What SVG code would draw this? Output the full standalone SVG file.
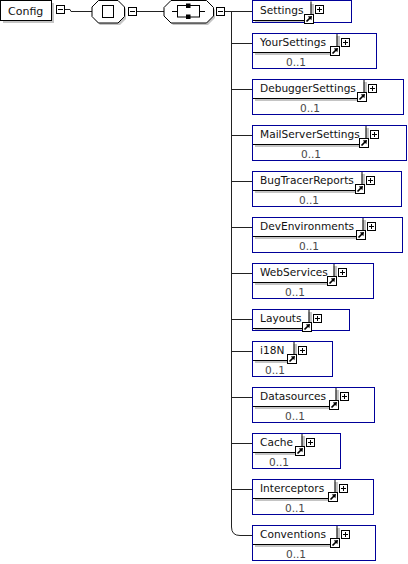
<svg xmlns="http://www.w3.org/2000/svg" xmlns:xlink="http://www.w3.org/1999/xlink" width="408" height="564" viewBox="0 0 408 564">
<style>
text{font-family:"DejaVu Sans","Liberation Sans",sans-serif;font-size:10.6px;fill:#111}
.card{fill:#4a4a4a;text-anchor:middle}
.outer{fill:none;stroke:#000099;stroke-width:1}
.shadow{fill:#c4c4c4}
.namebg{fill:#fff}
.edge{fill:none;stroke:#000;stroke-width:1}
.conn{fill:none;stroke:#222;stroke-width:1}
.box{fill:#fff;stroke:#000;stroke-width:1}
</style>
<defs>
<g id="arrow">
<rect x="0.5" y="0.5" width="9" height="9" fill="#fff" stroke="#000"/>
<path d="M2.5,7.5 L6,4" stroke="#000" stroke-width="1.7"/>
<polygon points="8,2 3.8,2.6 7.4,6.2" fill="#000"/>
</g>
<g id="plus">
<rect x="0.5" y="0.5" width="8" height="8" fill="#fff" stroke="#000"/>
<path d="M2,4.5H7M4.5,2V7" stroke="#000"/>
</g>
<g id="minus">
<rect x="0.5" y="0.5" width="8" height="8" fill="#fff" stroke="#000"/>
<path d="M2,4.5H7" stroke="#000"/>
</g>
</defs>

<g id="connectors">
<path class="conn" d="M64.5,9.5 H70 L71,11.5 H92"/>
<path class="conn" d="M137,11.5 H164"/>
<path class="conn" d="M225,11.5 H252"/>
<path class="conn" d="M231.5,11.5 V527 Q231.5,535.5 240,535.5 H252"/>
<path class="conn" d="M231.5,43.5H252M231.5,89.5H252M231.5,135.5H252M231.5,181.5H252M231.5,227.5H252M231.5,273.5H252M231.5,319.5H252M231.5,351.5H252M231.5,397.5H252M231.5,443.5H252M231.5,489.5H252"/>
</g>

<g id="node-Config">
<rect class="shadow" x="3" y="3" width="51" height="20"/>
<rect class="box" x="0.5" y="0.5" width="51" height="20"/>
<text x="8" y="14.5" style="font-size:11px">Config</text>
<use xlink:href="#minus" x="56" y="5"/>
</g>

<g id="node-compositor1">
<path class="shadow" d="M100,3 H120 L126,9 V19 L120,25 H100 L94,19 V9 Z"/>
<path class="box" d="M98.5,0.5 H118 L124.5,7 V16.5 L118,23 H98.5 L92,16.5 V7 Z"/>
<rect class="box" x="102.5" y="5.5" width="11" height="12"/>
<use xlink:href="#minus" x="128" y="7"/>
</g>

<g id="node-compositor2">
<path class="shadow" d="M173,3 H208 L215,10 V18 L208,25 H173 L166,18 V10 Z"/>
<path class="box" d="M171,0.5 H206.5 L213.5,7.5 V16 L206.5,23 H171 L164,16 V7.5 Z"/>
<path class="edge" d="M172,11.5 H177.5 M199.5,11.5 H205"/>
<rect class="edge" x="177.5" y="5.5" width="22" height="11.5"/>
<rect x="186" y="3.5" width="4.5" height="4.5" fill="#000"/>
<rect x="186" y="14.5" width="4.5" height="4.5" fill="#000"/>
<use xlink:href="#minus" x="216" y="7"/>
</g>

<g id="node-Settings">
<rect class="namebg" x="252.5" y="1.5" width="99" height="21"/>
<rect class="shadow" x="255" y="4" width="59" height="19"/>
<rect class="namebg" x="252.5" y="1.5" width="58" height="18.5"/>
<path class="edge" d="M311,1.5 V20.5 H253"/>
<rect class="outer" x="252.5" y="0.5" width="99" height="22"/>
<text x="260" y="14">Settings</text>
<use xlink:href="#arrow" x="304" y="14"/>
<use xlink:href="#plus" x="315" y="5"/>
</g>

<g id="node-YourSettings">
<rect class="namebg" x="252.5" y="33.5" width="124" height="35"/>
<rect class="shadow" x="255" y="36" width="85" height="19"/>
<rect class="namebg" x="252.5" y="33.5" width="84" height="18.5"/>
<path class="edge" d="M337,33.5 V52.5 H253"/>
<rect class="outer" x="252.5" y="33.5" width="124" height="35"/>
<text x="260" y="46">YourSettings</text>
<use xlink:href="#arrow" x="330" y="46"/>
<use xlink:href="#plus" x="341" y="38"/>
<text class="card" x="296" y="66">0..1</text>
</g>

<g id="node-DebuggerSettings">
<rect class="namebg" x="252.5" y="79.5" width="151" height="35"/>
<rect class="shadow" x="255" y="82" width="112" height="19"/>
<rect class="namebg" x="252.5" y="79.5" width="111" height="18.5"/>
<path class="edge" d="M364,79.5 V98.5 H253"/>
<rect class="outer" x="252.5" y="79.5" width="151" height="35"/>
<text x="260" y="92">DebuggerSettings</text>
<use xlink:href="#arrow" x="357" y="92"/>
<use xlink:href="#plus" x="368" y="84"/>
<text class="card" x="310" y="112">0..1</text>
</g>

<g id="node-MailServerSettings">
<rect class="namebg" x="252.5" y="125.5" width="154" height="35"/>
<rect class="shadow" x="255" y="128" width="114" height="19"/>
<rect class="namebg" x="252.5" y="125.5" width="113" height="18.5"/>
<path class="edge" d="M366,125.5 V144.5 H253"/>
<rect class="outer" x="252.5" y="125.5" width="154" height="35"/>
<text x="260" y="138">MailServerSettings</text>
<use xlink:href="#arrow" x="359" y="138"/>
<use xlink:href="#plus" x="370" y="130"/>
<text class="card" x="311" y="158">0..1</text>
</g>

<g id="node-BugTracerReports">
<rect class="namebg" x="252.5" y="171.5" width="149" height="35"/>
<rect class="shadow" x="255" y="174" width="110" height="19"/>
<rect class="namebg" x="252.5" y="171.5" width="109" height="18.5"/>
<path class="edge" d="M362,171.5 V190.5 H253"/>
<rect class="outer" x="252.5" y="171.5" width="149" height="35"/>
<text x="260" y="184">BugTracerReports</text>
<use xlink:href="#arrow" x="355" y="184"/>
<use xlink:href="#plus" x="366" y="176"/>
<text class="card" x="309" y="204">0..1</text>
</g>

<g id="node-DevEnvironments">
<rect class="namebg" x="252.5" y="217.5" width="150" height="35"/>
<rect class="shadow" x="255" y="220" width="111" height="19"/>
<rect class="namebg" x="252.5" y="217.5" width="110" height="18.5"/>
<path class="edge" d="M363,217.5 V236.5 H253"/>
<rect class="outer" x="252.5" y="217.5" width="150" height="35"/>
<text x="260" y="230">DevEnvironments</text>
<use xlink:href="#arrow" x="356" y="230"/>
<use xlink:href="#plus" x="367" y="222"/>
<text class="card" x="309" y="250">0..1</text>
</g>

<g id="node-WebServices">
<rect class="namebg" x="252.5" y="263.5" width="121" height="35"/>
<rect class="shadow" x="255" y="266" width="82" height="19"/>
<rect class="namebg" x="252.5" y="263.5" width="81" height="18.5"/>
<path class="edge" d="M334,263.5 V282.5 H253"/>
<rect class="outer" x="252.5" y="263.5" width="121" height="35"/>
<text x="260" y="276">WebServices</text>
<use xlink:href="#arrow" x="327" y="276"/>
<use xlink:href="#plus" x="338" y="268"/>
<text class="card" x="295" y="296">0..1</text>
</g>

<g id="node-Layouts">
<rect class="namebg" x="252.5" y="309.5" width="97" height="21"/>
<rect class="shadow" x="255" y="312" width="57" height="19"/>
<rect class="namebg" x="252.5" y="309.5" width="56" height="18.5"/>
<path class="edge" d="M309,309.5 V328.5 H253"/>
<rect class="outer" x="252.5" y="309.5" width="97" height="21"/>
<text x="260" y="322">Layouts</text>
<use xlink:href="#arrow" x="302" y="322"/>
<use xlink:href="#plus" x="313" y="314"/>
</g>

<g id="node-i18N">
<rect class="namebg" x="252.5" y="341.5" width="80" height="35"/>
<rect class="shadow" x="255" y="344" width="42" height="19"/>
<rect class="namebg" x="252.5" y="341.5" width="41" height="18.5"/>
<path class="edge" d="M294,341.5 V360.5 H253"/>
<rect class="outer" x="252.5" y="341.5" width="80" height="35"/>
<text x="260" y="354">i18N</text>
<use xlink:href="#arrow" x="287" y="354"/>
<use xlink:href="#plus" x="298" y="346"/>
<text class="card" x="275" y="374">0..1</text>
</g>

<g id="node-Datasources">
<rect class="namebg" x="252.5" y="387.5" width="122" height="35"/>
<rect class="shadow" x="255" y="390" width="84" height="19"/>
<rect class="namebg" x="252.5" y="387.5" width="83" height="18.5"/>
<path class="edge" d="M336,387.5 V406.5 H253"/>
<rect class="outer" x="252.5" y="387.5" width="122" height="35"/>
<text x="260" y="400">Datasources</text>
<use xlink:href="#arrow" x="329" y="400"/>
<use xlink:href="#plus" x="340" y="392"/>
<text class="card" x="295" y="420">0..1</text>
</g>

<g id="node-Cache">
<rect class="namebg" x="252.5" y="433.5" width="88" height="35"/>
<rect class="shadow" x="255" y="436" width="50" height="19"/>
<rect class="namebg" x="252.5" y="433.5" width="49" height="18.5"/>
<path class="edge" d="M302,433.5 V452.5 H253"/>
<rect class="outer" x="252.5" y="433.5" width="88" height="35"/>
<text x="260" y="446">Cache</text>
<use xlink:href="#arrow" x="295" y="446"/>
<use xlink:href="#plus" x="306" y="438"/>
<text class="card" x="279" y="466">0..1</text>
</g>

<g id="node-Interceptors">
<rect class="namebg" x="252.5" y="479.5" width="121" height="35"/>
<rect class="shadow" x="255" y="482" width="83" height="19"/>
<rect class="namebg" x="252.5" y="479.5" width="82" height="18.5"/>
<path class="edge" d="M335,479.5 V498.5 H253"/>
<rect class="outer" x="252.5" y="479.5" width="121" height="35"/>
<text x="260" y="492">Interceptors</text>
<use xlink:href="#arrow" x="328" y="492"/>
<use xlink:href="#plus" x="339" y="484"/>
<text class="card" x="295" y="512">0..1</text>
</g>

<g id="node-Conventions">
<rect class="namebg" x="252.5" y="525.5" width="123" height="35"/>
<rect class="shadow" x="255" y="528" width="85" height="19"/>
<rect class="namebg" x="252.5" y="525.5" width="84" height="18.5"/>
<path class="edge" d="M337,525.5 V544.5 H253"/>
<rect class="outer" x="252.5" y="525.5" width="123" height="35"/>
<text x="260" y="538">Conventions</text>
<use xlink:href="#arrow" x="330" y="538"/>
<use xlink:href="#plus" x="341" y="530"/>
<text class="card" x="296" y="558">0..1</text>
</g>
</svg>
